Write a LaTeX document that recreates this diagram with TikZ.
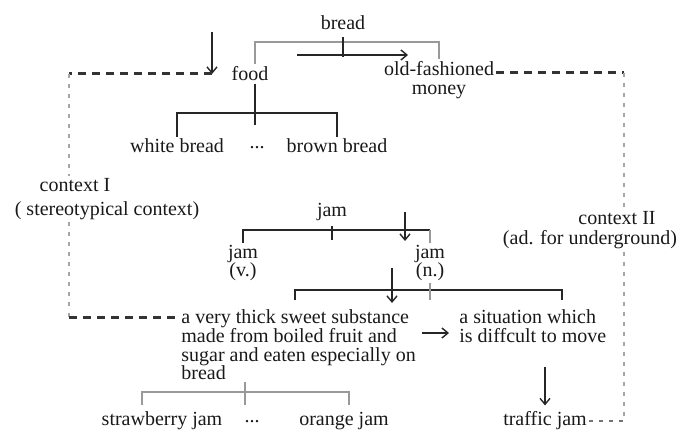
\documentclass[tikz,border=0pt]{standalone}
\usepackage{fontspec}
\setmainfont{Liberation Serif}
\usetikzlibrary{arrows.meta,calc,positioning}

\begin{document}
\begin{tikzpicture}[
    x=0.5pt,y=-0.5pt,
    >={Straight Barb[length=3pt,width=5pt]},
    font=\fontsize{10}{9.3}\selectfont,
    word/.style={inner sep=1pt,align=center,text=black!90},
    gloss/.style={inner sep=1pt,align=left,anchor=west,text=black!90},
    tree/.style={draw=black!85,line width=0.7pt},
    gtree/.style={draw=black!40,line width=0.7pt},
    senseto/.style={->,draw=black!85,line width=0.7pt},
    ctxdash/.style={draw=black!80,line width=1.5pt,dash pattern=on 4pt off 3pt},
    ctxdot/.style={draw=black!35,line width=0.9pt,dash pattern=on 2pt off 3pt}
  ]
    \useasboundingbox (0,0) rectangle (679,433);

    % bread
    \node[word] (bread) at (343,23) {bread};
    \node[word] (food) at (250,74) {food};
    \node[word] (old) at (439,80) {old-fashioned\\money};
    \node[word] (white) at (177,146) {white bread};
    \node[word] (dotsa) at (257,148) {...};
    \node[word] (brown) at (337,146) {brown bread};

    % contexts
    \node[word] (ctxone) at (75,185) {context I};
    \node[word] (stereo) at (107,211) {( stereotypical context)};
    \node[word] (ctxtwo) at (617,218) {context II};
    \node[word] (under) at (590,240) {(ad. for underground)};

    % jam
    \node[word] (jam) at (332,212) {jam};
    \node[word] (jamv) at (243,263) {jam\\(v.)};
    \node[word] (jamn) at (430,263) {jam\\(n.)};
    \node[gloss] (def) at (179,345) {a very thick sweet substance\\made from boiled fruit and\\sugar and eaten especially on\\bread};
    \node[gloss] (sit) at (457,326) {a situation which\\is diffcult to move};
    \node[word] (straw) at (162,421) {strawberry jam};
    \node[word] (dotsb) at (252,422) {...};
    \node[word] (orange) at (344,421) {orange jam};
    \node[word] (traffic) at (545,421) {traffic jam};

    \coordinate (breadbar) at (343,42);
    \coordinate (breadtick) at (343,57);
    \coordinate (shifta) at (297,55);
    \coordinate (shiftb) at (408,55);
    \coordinate (foodbar) at (255,113);
    \coordinate (foodtick) at (255,125);
    \coordinate (foodin) at (212,74);
    \coordinate (foodtop) at (212,32);
    \coordinate (c1top) at (69,74);
    \coordinate (c1bot) at (69,317);
    \coordinate (c2top) at (624,73);
    \coordinate (c2bot) at (624,421);
    \coordinate (jambar) at (332,230);
    \coordinate (jamtick) at (332,240);
    \coordinate (jntop) at (405,212);
    \coordinate (jntip) at (405,241);
    \coordinate (defl) at (295,300);
    \coordinate (defbar) at (430,290);
    \coordinate (defr) at (562,300);
    \coordinate (deftop) at (392,268);
    \coordinate (deftip) at (392,303);
    \coordinate (jaml) at (142,405);
    \coordinate (jambot) at (245,392);
    \coordinate (jamr) at (349,405);

    % bread -> food / money
    \draw[gtree] (food.north -| foodbar) |- (breadbar) -| (old.north);
    \draw[tree,shorten <=2.5pt] (bread.south) -- (breadtick);
    \draw[senseto] (shifta) -- (shiftb);
    \draw[senseto] (foodtop) -- (foodin);
    \draw[tree] (food.south -| foodbar) -- (foodtick);
    \draw[tree] (white.north) |- (foodbar) -| (brown.north);

    % context I
    \draw[ctxdash] (foodin) -- (c1top);
    \draw[ctxdot] (c1top) -- (c1top |- ctxone.north);
    \draw[ctxdot] (c1top |- stereo.south) -- (c1bot);
    \draw[ctxdash] (c1bot) -- (def.west |- c1bot);

    % context II
    \draw[ctxdash] (old.east |- c2top) -- (c2top);
    \draw[ctxdot] (c2top) -- (c2top |- ctxtwo.north);
    \draw[ctxdot] (c2top |- under.south) -- (c2bot);
    \draw[ctxdot,draw=black!55] (traffic.east |- c2bot) -- (c2bot);

    % jam
    \draw[tree] (jamv.north) |- (jambar) -- (jambar -| jamn);
    \draw[gtree] (jambar -| jamn) -- (jamn.north);
    \draw[tree,shorten <=1.5pt] (jam.south) -- (jamtick);
    \draw[senseto] (jntop) -- (jntip);
    \draw[tree] (defl) |- (defbar) -| (defr);
    \draw[gtree] (jamn.south) -- (jamn.south |- defl);
    \draw[senseto] (deftop) -- (deftip);
    \draw[senseto,shorten <=2pt,shorten >=4pt] ($(def.east)+(0,-12)$) -- ($(sit.west)+(0,7)$);
    \draw[senseto,shorten <=11pt,shorten >=2pt] (sit.south -| traffic.north) -- (traffic.north);
    \draw[gtree] (jaml) |- (jambot) -| (jamr);
    \draw[gtree] (def.south -| jambot) -- (jambot |- jaml);
  \end{tikzpicture}
\end{document}
